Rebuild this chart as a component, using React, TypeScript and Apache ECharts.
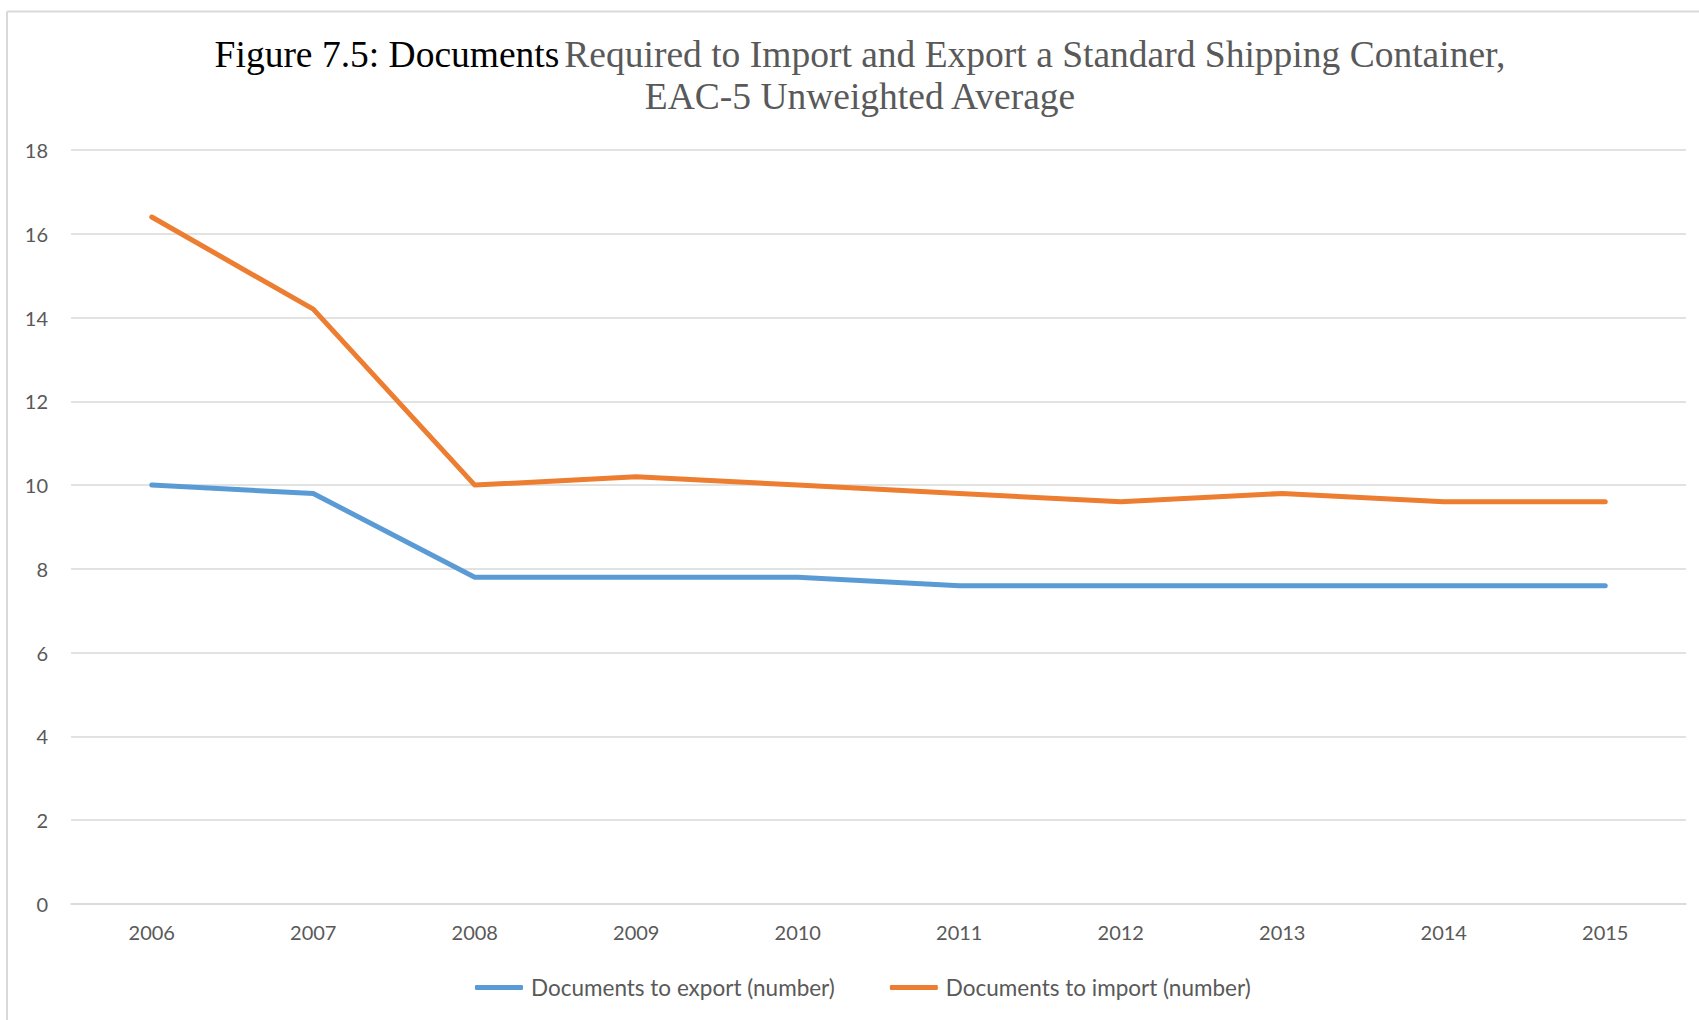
import React, { useEffect, useRef } from "react";
import * as echarts from "echarts";

const years = ["2006", "2007", "2008", "2009", "2010", "2011", "2012", "2013", "2014", "2015"];
const exportDocs = [10.0, 9.8, 7.8, 7.8, 7.8, 7.6, 7.6, 7.6, 7.6, 7.6];
const importDocs = [16.4, 14.2, 10.0, 10.2, 10.0, 9.8, 9.6, 9.8, 9.6, 9.6];
const seriesNames = ["Documents to export (number)", "Documents to import (number)"];
const titleBlack = "Figure 7.5: Documents";
const titleGrayLine1 = "Required to Import and Export a Standard Shipping Container,";
const titleGrayLine2 = "EAC-5 Unweighted Average";

const BLUE = "#5b9bd5";
const ORANGE = "#ed7d31";
const GRID = "#d9d9d9";
const LABEL = "#595959";
const SANS = "Lato";
const SERIF = "Liberation Serif";

export default function App() {
  const ref = useRef<HTMLDivElement>(null);
  useEffect(() => {
    document.body.style.margin = "0";
    const chart = echarts.init(ref.current!, null, { renderer: "svg" });
    chart.setOption({
      animation: false,
      backgroundColor: "#ffffff",
      title: {
        left: 855,
        top: 28,
        textAlign: "center",
        text: `{a|${titleBlack}} {b|${titleGrayLine1}}\n{b|${titleGrayLine2}}`,
        textStyle: {
          fontWeight: "normal",
          rich: {
            a: { fontFamily: SERIF, fontSize: 37.5, fontWeight: "normal", color: "#000000", lineHeight: 42 },
            b: { fontFamily: SERIF, fontSize: 37.5, fontWeight: "normal", color: LABEL, lineHeight: 42 },
          },
        },
      },
      graphic: [
        { type: "line", shape: { x1: 7, y1: 11.5, x2: 1699, y2: 11.5 }, style: { stroke: GRID, lineWidth: 2 } },
        { type: "line", shape: { x1: 7, y1: 11.5, x2: 7, y2: 1020 }, style: { stroke: GRID, lineWidth: 2 } },
      ],
      legend: {
        left: 470,
        top: 971,
        itemWidth: 48,
        itemHeight: 5,
        itemGap: 55,
        icon: "roundRect",
        data: seriesNames,
        textStyle: { fontFamily: SANS, fontSize: 22.5, color: LABEL, padding: [0, 0, 0, 3] },
      },
      grid: { left: 71, right: 13, top: 150, bottom: 116, containLabel: false },
      xAxis: {
        type: "category",
        data: years,
        boundaryGap: true,
        axisLine: { show: true, lineStyle: { color: GRID, width: 1.5 } },
        axisTick: { show: false },
        axisLabel: { fontFamily: SANS, fontSize: 20, color: LABEL, margin: 18 },
      },
      yAxis: {
        type: "value",
        min: 0,
        max: 18,
        interval: 2,
        axisLine: { show: false },
        axisTick: { show: false },
        axisLabel: { fontFamily: SANS, fontSize: 20, color: LABEL, margin: 23 },
        splitLine: { show: true, lineStyle: { color: GRID, width: 1.5 } },
      },
      series: [
        {
          name: seriesNames[0],
          type: "line",
          data: exportDocs,
          symbol: "none",
          color: BLUE,
          lineStyle: { color: BLUE, width: 5, cap: "round", join: "round" },
        },
        {
          name: seriesNames[1],
          type: "line",
          data: importDocs,
          symbol: "none",
          color: ORANGE,
          lineStyle: { color: ORANGE, width: 5, cap: "round", join: "round" },
        },
      ],
    });
    return () => chart.dispose();
  }, []);
  return (
    <div
      ref={ref}
      style={{ position: "fixed", left: 0, top: 0, width: "1699px", height: "1020px" }}
    />
  );
}
